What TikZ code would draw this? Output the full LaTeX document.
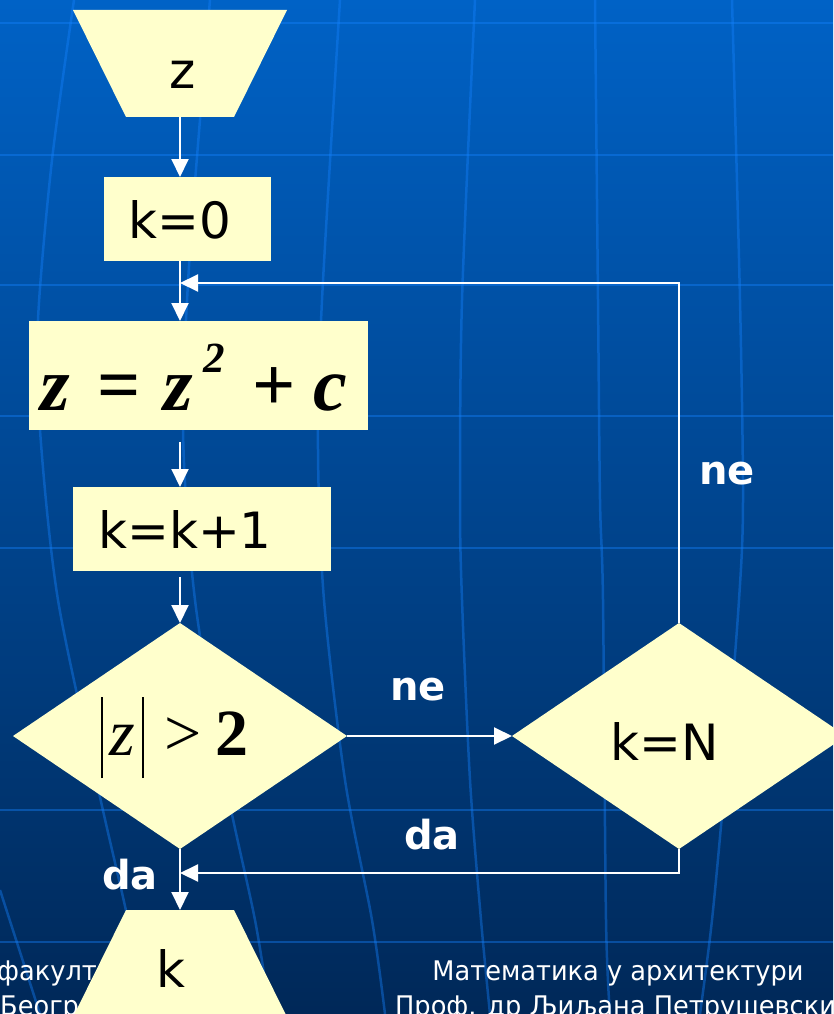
\documentclass[tikz,border=0pt]{standalone}
\usepackage{fontspec}
\setmainfont{DejaVu Sans}
\newfontfamily\serf{Liberation Serif}
\newfontfamily\footf{DejaVu Sans}[FakeStretch=0.95]
\usetikzlibrary{arrows.meta}
\pgfdeclarelayer{bg}
\pgfsetlayers{bg,main}
\definecolor{bgtop}{RGB}{0,98,198}
\definecolor{bgbot}{RGB}{0,40,88}
\definecolor{fillc}{RGB}{255,255,204}
\definecolor{gridc}{RGB}{20,130,255}
\tikzset{
  box/.style={fill=fillc, inner sep=0pt, outer sep=0pt},
  frame/.style={inner sep=0pt, outer sep=0pt, minimum width=214pt, minimum height=107pt},
  txt/.style={text=black, inner sep=0pt, font=\fontsize{50}{60}\selectfont},
  lbl/.style={text=white, inner sep=0pt, font=\fontsize{40}{48}\selectfont\bfseries},
  con/.style={draw=white, line width=2pt},
  arr/.style={con, -{Triangle[length=18pt,width=17pt]}},
  gridline/.style={draw=gridc, line width=2.5pt, opacity=0.4},
  foot/.style={text=white, inner sep=0pt, font=\footf\fontsize{27}{30}\selectfont}
}
\begin{document}
\begin{tikzpicture}[x=1pt,y=-1pt]
\useasboundingbox (0,0) rectangle (833,1014);
\begin{pgfonlayer}{bg}
  \shade[top color=bgtop,bottom color=bgbot] (0,0) rectangle (833,1014);
  % horizontal grid lines
  \foreach \yy in {23,155,285,416,548,810,942}
    \draw[gridline] (0,\yy) -- (833,\yy);
  % meridians
  \draw[gridline] plot[smooth] coordinates {(74,0) (52,160) (38,320) (40,430) (58,600) (100,797) (128,920) (145,1014)};
  \draw[gridline] plot[smooth] coordinates {(210,0) (190,250) (183,430) (195,600) (225,780) (255,920) (270,1014)};
  \draw[gridline] plot[smooth] coordinates {(340,0) (322,300) (318,450) (324,600) (345,780) (372,920) (385,1014)};
  \draw[gridline] plot[smooth] coordinates {(475,0) (462,300) (460,500) (462,600) (470,780) (481,920) (490,1014)};
  \draw[gridline] plot[smooth] coordinates {(595,0) (598,300) (600,500) (603,600) (606,920) (610,1014)};
  \draw[gridline] plot[smooth] coordinates {(732,0) (740,300) (743,500) (739,600) (725,780) (712,920) (700,1014)};
  \draw[gridline] (0,890) -- (40,1014);
  % footer
  \node[foot, anchor=base west] (f1) at (-3,980) {факултет};
  \node[foot, anchor=base west] (f2) at (0,1015) {Београд};
  \node[foot, anchor=base] (f3) at (618,980) {Математика у архитектури};
  \node[foot, anchor=base west] (f4) at (395,1015) {Проф. др Љиљана Петрушевски};
\end{pgfonlayer}

% shapes
\node[frame] (t1) at (180,63.5) {};
\node[frame] (t2) at (180,963.5) {};
\node[box, minimum width=167pt, minimum height=84pt] (k0) at (187.5,219) {};
\node[box, minimum width=339pt, minimum height=109pt] (zb) at (198.5,375.5) {};
\node[box, minimum width=258pt, minimum height=84pt] (kk) at (202,529) {};
\path[fill=fillc] (180,623) -- (347,736) -- (180,849) -- (13,736) -- cycle;
\node[inner sep=0pt, outer sep=0pt, minimum width=334pt, minimum height=226pt] (d1) at (180,736) {};
\path[fill=fillc] (679,623) -- (846,736) -- (679,849) -- (512,736) -- cycle;
\node[inner sep=0pt, outer sep=0pt, minimum width=334pt, minimum height=226pt] (d2) at (679,736) {};
\begin{pgfonlayer}{bg}
  \fill[fillc] (t1.north west) -- (t1.north east) -- ([xshift=-53pt]t1.south east) -- ([xshift=53pt]t1.south west) -- cycle;
  \fill[fillc] ([xshift=53pt]t2.north west) -- ([xshift=-53pt]t2.north east) -- (t2.south east) -- (t2.south west) -- cycle;
\end{pgfonlayer}

% texts
\node[txt] (t1t) at (183,74.5) {z};
\node[txt] (k0t) at (179.5,219.5) {k=0};
\node[txt] (kkt) at (185,530) {k=k+1};
\node[txt] (d2t) at (665,741) {k=N};
\node[txt] (t2t) at (171,968) {k};
\node[text=black, inner sep=0pt, anchor=base west, font=\serf\fontsize{76}{80}\selectfont] (zbt) at (40,410)
  {\makebox[57pt][l]{\bfseries\itshape z}\makebox[66pt][l]{\bfseries =}\makebox[40pt][l]{\bfseries\itshape z}\makebox[49pt][l]{\raisebox{38pt}{\fontsize{43}{45}\selectfont\bfseries\itshape 2}}\makebox[61pt][l]{\bfseries +}{\bfseries\itshape c}};
\node[text=black, inner sep=0pt, anchor=base west, font=\serf\fontsize{66}{70}\selectfont] (d1t) at (101,755)
  {\makebox[8pt][l]{\rule[-23pt]{2pt}{81pt}}\makebox[33pt][l]{\itshape z}\makebox[22pt][l]{\rule[-23pt]{2pt}{81pt}}\makebox[51pt][l]{>}{\bfseries 2}};

% connectors
\coordinate (j1) at (180,283);
\coordinate (j2) at (180,873);
\draw[arr] (t1.south) -- (t1.south |- k0.north);
\draw[arr] (t1.south |- k0.south) -- (t1.south |- zb.north);
\draw[arr] ([yshift=-12pt]t1.south |- zb.south) -- (t1.south |- kk.north);
\draw[arr] ([yshift=-6pt]t1.south |- kk.south) -- (d1.north);
\draw[arr] (d1.east) -- (d2.west);
\draw[arr] (d2.north) |- (j1);
\draw[arr] (d2.south) |- (j2);
\draw[arr] (d1.south) -- (t2.north);

% labels
\node[lbl] (ne1) at (418,690) {ne};
\node[lbl] (ne2) at (727,474) {ne};
\node[lbl] (da1) at (432,835) {da};
\node[lbl] (da2) at (130,875) {da};
\end{tikzpicture}
\end{document}
